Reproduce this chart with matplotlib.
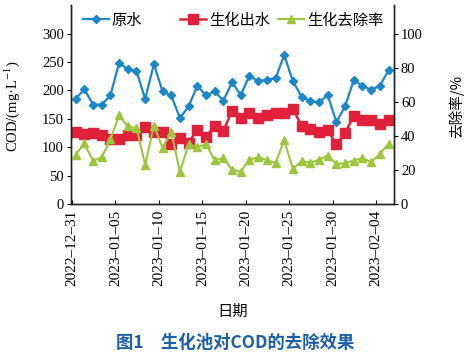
import pandas as pd
import matplotlib
matplotlib.use("Agg")
import matplotlib.pyplot as plt
import matplotlib.dates as mdates
from matplotlib.legend import Legend

plt.rcParams['font.family'] = ['Liberation Serif', 'DejaVu Serif', 'Noto Sans CJK SC']
plt.rcParams['mathtext.fontset'] = 'stix'

# daily samples, 2022-12-31 .. 2023-02-05
dates = pd.date_range('2022-12-31', periods=37, freq='D')
raw_cod = [185, 202, 175, 175, 191, 249, 237, 234, 185, 246, 198, 191, 151, 172, 208,
           191, 198, 182, 214, 192, 226, 216, 219, 221, 262, 216, 189, 181, 179, 192,
           144, 172, 218, 208, 201, 208, 235]
out_cod = [127, 123, 125, 122, 114, 114, 122, 122, 136, 126, 126, 105, 117, 108, 131,
           118, 138, 129, 164, 151, 160, 152, 156, 161, 161, 167, 138, 132, 126, 130,
           105, 125, 155, 147, 147, 141, 147]
removal = [29, 35.5, 25.3, 27.3, 38, 52, 45.5, 44.5, 23, 46, 33, 42, 19, 35, 33.5,
           35, 25.7, 27, 20, 19, 26, 27.4, 25.8, 24, 37.3, 20.6, 25.1, 24.3, 25.9, 28.4,
           23.5, 23.9, 25.5, 26.9, 24.5, 29.4, 35.3]
tick_dates = ['2022-12-31', '2023-01-05', '2023-01-10', '2023-01-15',
              '2023-01-20', '2023-01-25', '2023-01-30', '2023-02-04']

x = dates + pd.Timedelta(hours=10)

fig = plt.figure(figsize=(4.73, 3.57), dpi=100)
ax = fig.add_axes([0.150, 0.4286, 0.683, 0.557])
ax2 = ax.twinx()

l1, = ax.plot(x, raw_cod, color='#1b87c9', marker='D', markersize=4.3, linewidth=1.6, label='原水')
l2, = ax.plot(x, out_cod, color='#e2203b', marker='s', markersize=6.5, linewidth=1.8, label='生化出水')
l3, = ax2.plot(x, removal, color='#9cc63e', marker='^', markersize=5.5, linewidth=1.5, label='生化去除率')

ax.set_xlim(dates[0] - pd.Timedelta(hours=3), dates[0] + pd.Timedelta(days=37.05))
ax.set_ylim(0, 350)
ax2.set_ylim(0, 350 / 3)
ax.set_yticks([0, 50, 100, 150, 200, 250, 300])
ax2.set_yticks([0, 20, 40, 60, 80, 100])

ax.set_xticks(pd.to_datetime(tick_dates))
ax.xaxis.set_major_formatter(mdates.DateFormatter('%Y\u2013%m\u2013%d'))
for lab in ax.get_xticklabels():
    lab.set_rotation(90)

ax.tick_params(axis='x', direction='in', labelsize=11, length=3, width=0.8, pad=4)
ax.tick_params(axis='y', direction='out', labelsize=10.5, length=3, width=0.8, pad=2)
ax2.tick_params(axis='y', direction='out', labelsize=10.5, length=3, width=0.8, pad=2)
for a in (ax, ax2):
    for s in a.spines.values():
        s.set_linewidth(1.0)
        s.set_color('#222222')
    a.spines['top'].set_visible(False)

ax.set_ylabel('COD/(mg·L$^{-1}$)', fontsize=10.5)
ax.yaxis.set_label_coords(-0.15, 0.49)
ax2.set_ylabel('去除率/%', fontsize=10.5, family=['Noto Sans CJK SC'])
ax2.yaxis.set_label_coords(1.17, 0.49)
ax.set_xlabel('日期', fontsize=11, family=['Noto Sans CJK SC'], labelpad=12)

# one legend per series so the entries sit where the reference has them
for handle, xpos in zip([l1, l2, l3], [0.037, 0.337, 0.641]):
    leg = Legend(ax2, [handle], [handle.get_label()], loc='center left',
                 bbox_to_anchor=(xpos, 0.925), frameon=False,
                 prop={'family': 'Noto Sans CJK SC', 'size': 11},
                 handlelength=1.7, handletextpad=0.2, borderpad=0, borderaxespad=0)
    ax2.add_artist(leg)

fig.text(0.497, 0.038, '图1　生化池对COD的去除效果', ha='center', va='center',
         fontsize=12.5, fontweight='bold', color='#1e5ea8', family=['Noto Sans CJK SC'])

fig.savefig('out.png', dpi=100)
